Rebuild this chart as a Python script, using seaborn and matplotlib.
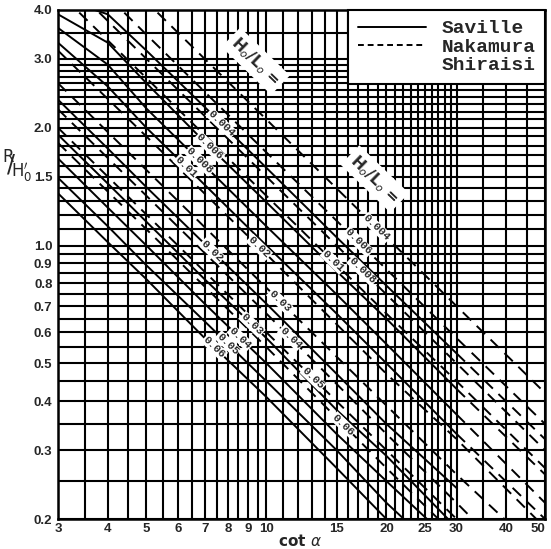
import numpy as np
import matplotlib
matplotlib.use("Agg")
import matplotlib.pyplot as plt
from matplotlib.ticker import NullFormatter
import seaborn as sns
from matplotlib.lines import Line2D

# wave steepness H0/L0 of each curve
steepness = ["0.004", "0.006", "0.008", "0.01", "0.02", "0.03", "0.04", "0.05", "0.06"]

saville_cot = [3, 4, 5, 7, 10, 15, 20, 30]
saville_r = [
    [4.3, 3.9, 3.15, 2.26, 1.58, 1.05, 0.79, 0.53],
    [3.9, 3.3, 2.6, 1.84, 1.29, 0.86, 0.65, 0.43],
    [3.6, 2.9, 2.24, 1.6, 1.12, 0.75, 0.56, 0.37],
    [3.3, 2.55, 2.0, 1.43, 1.0, 0.67, 0.5, 0.33],
    [2.36, 1.77, 1.41, 1.01, 0.71, 0.47, 0.35, 0.24],
    [1.92, 1.44, 1.15, 0.82, 0.58, 0.38, 0.29, 0.19],
    [1.67, 1.25, 1.0, 0.71, 0.5, 0.33, 0.25, 0.17],
    [1.49, 1.12, 0.89, 0.64, 0.45, 0.30, 0.22, 0.15],
    [1.36, 1.02, 0.82, 0.58, 0.41, 0.27, 0.20, 0.14],
]
# past cot a = 30 the Saville curves carry on dashed
saville_ext_cot = [30, 50]
saville_ext_r = [[0.53, 0.32], [0.43, 0.26], [0.37, 0.22], [0.33, 0.20]]

# Nakamura-Shiraisi curves (dashed)
nakamura_cot = [3, 5, 10, 20, 30, 50]
nakamura_r = [
    [7.0, 4.2, 2.1, 1.05, 0.70, 0.42],
    [5.8, 3.46, 1.73, 0.87, 0.58, 0.35],
    [5.0, 3.0, 1.5, 0.75, 0.50, 0.30],
    [4.45, 2.68, 1.34, 0.67, 0.45, 0.27],
    [3.15, 1.9, 0.95, 0.47, 0.32, 0.19],
    [2.6, 1.56, 0.78, 0.39, 0.26, 0.16],
    [2.23, 1.34, 0.67, 0.33, 0.22, 0.13],
    [2.0, 1.2, 0.6, 0.3, 0.2, 0.12],
    [1.83, 1.1, 0.55, 0.27, 0.18, 0.11],
]

# where along cot a the steepness labels sit
saville_label_cot = [7.7, 7.2, 6.8, 6.3, 7.3, 9.2, 8.6, 8.0, 7.4]
nakamura_label_cot = [18.9, 17.0, 17.4, 14.7, 9.6, 10.8, 11.5, 13.1, 15.6]

x_ticks = [3, 4, 5, 6, 7, 8, 9, 10, 15, 20, 25, 30, 40, 50]
y_ticks = [0.2, 0.3, 0.4, 0.5, 0.6, 0.7, 0.8, 0.9, 1.0, 1.5, 2.0, 3.0, 4.0]
y_tick_labels = ["0.2", "0.3", "0.4", "0.5", "0.6", "0.7", "0.8", "0.9",
                 "1.0", "1.5", "2.0", "3.0", "4.0"]

sns.set_style("white")
plt.rcParams["font.family"] = ["DejaVu Sans"]

fig = plt.figure(figsize=(5.51, 5.49), dpi=100)
ax = fig.add_axes([58 / 551, 30 / 549, 487 / 551, 509 / 549])
ax.set_xscale("log")
ax.set_yscale("log")

dash = (0, (6, 4))
for r in saville_r:
    sns.lineplot(x=saville_cot, y=r, ax=ax, color="black", lw=1.4,
                 estimator=None, sort=False, zorder=3)
for r in saville_ext_r:
    sns.lineplot(x=saville_ext_cot, y=r, ax=ax, color="black", lw=1.4,
                 linestyle=dash, estimator=None, sort=False, zorder=3)
for r in nakamura_r:
    sns.lineplot(x=nakamura_cot, y=r, ax=ax, color="black", lw=1.4,
                 linestyle=dash, estimator=None, sort=False, zorder=3)

# grid of the nomogram
x_grid = list(np.arange(3, 10, 0.5)) + list(range(10, 30)) + [30, 35, 40, 45, 50]
y_grid = list(np.arange(0.2, 1.0, 0.05)) + list(np.arange(1.0, 3.0, 0.1)) + [3.0, 3.5, 4.0]
ax.set_xticks(x_grid, minor=True)
ax.set_yticks(y_grid, minor=True)
ax.xaxis.set_minor_formatter(NullFormatter())
ax.yaxis.set_minor_formatter(NullFormatter())
ax.set_xticks(x_ticks)
ax.set_xticklabels([str(t) for t in x_ticks])
ax.set_yticks(y_ticks)
ax.set_yticklabels(y_tick_labels)
ax.grid(True, which="both", color="black", lw=1.5, zorder=1)
ax.set_axisbelow(True)
ax.tick_params(which="minor", length=0)
ax.tick_params(axis="x", which="major", length=0, pad=3, labelsize=9.5)
ax.tick_params(axis="y", which="major", length=3, width=1.2, pad=1, labelsize=9.5)
for lab in ax.get_xticklabels() + ax.get_yticklabels():
    lab.set_fontweight("bold")
    lab.set_family("Liberation Sans")
ax.get_xticklabels()[-1].set_horizontalalignment("right")
ax.get_xticklabels()[-1].set_x(50.6)
for sp in ax.spines.values():
    sp.set_color("black")
    sp.set_linewidth(1.8)
ax.set_xlabel("")
ax.set_ylabel("")


def on_curve(cot_pts, r_pts, c):
    return 10 ** np.interp(np.log10(c), np.log10(cot_pts), np.log10(r_pts))


lbl_style = dict(rotation=-44, ha="center", va="center", fontsize=8,
                 family="Liberation Mono", fontweight="bold", zorder=5,
                 bbox=dict(facecolor="white", edgecolor="none", pad=0.4))
for s, c, r in zip(steepness, saville_label_cot, saville_r):
    ax.text(c, on_curve(saville_cot, r, c), s, **lbl_style)
for s, c, r in zip(steepness, nakamura_label_cot, nakamura_r):
    ax.text(c, on_curve(nakamura_cot, r, c), s, **lbl_style)

head_style = dict(rotation=-44, ha="center", va="center", fontsize=11,
                  fontweight="bold", zorder=5,
                  bbox=dict(facecolor="white", edgecolor="none", pad=3))
ax.text(9.4, 2.96, "H$_o$/L$_o$ =", **head_style)
ax.text(18.7, 1.48, "H$_o$/L$_o$ =", **head_style)

ax.set_xlim(3, 50)
ax.set_ylim(0.2, 4.0)

handles = [Line2D([], [], color="black", lw=1.4),
           Line2D([], [], color="black", lw=1.4, linestyle=(0, (3, 2))),
           Line2D([], [], lw=0)]
leg = ax.legend(handles, ["Saville", "Nakamura", "Shiraisi"], loc="upper right",
                bbox_to_anchor=(1, 1), borderaxespad=0, fancybox=False,
                framealpha=1, edgecolor="black", handlelength=3.5,
                labelspacing=0.05, borderpad=0.5,
                prop=dict(family="Liberation Mono", weight="bold", size=14))
leg.get_frame().set_linewidth(1.5)
leg.set_zorder(6)

# axis titles
fig.text(17 / 551, 1 - 167 / 549, r"${}^{\mathrm{R}}\!\!/\!{}_{\mathrm{H_0'}}$",
         fontsize=17, ha="center", va="center")
fig.text(300 / 551, 1 - 541 / 549, "cot $\\alpha$", fontsize=11,
         fontweight="bold", ha="center", va="center")

fig.savefig("out.png", dpi=100)
